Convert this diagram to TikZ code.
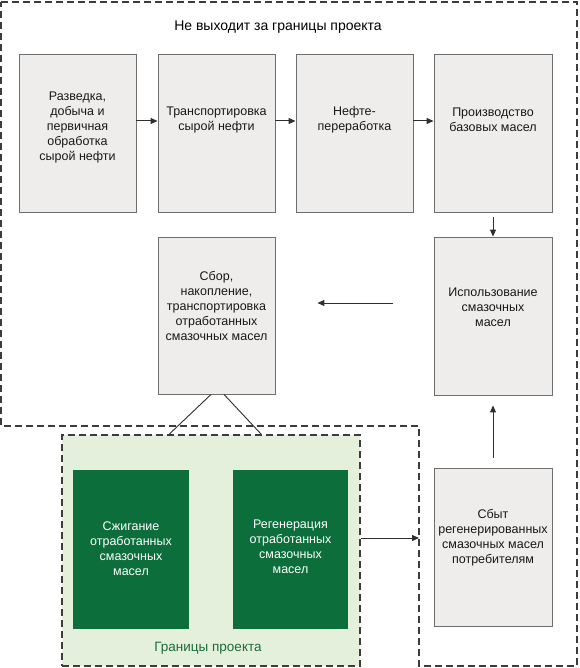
\documentclass[tikz,border=0pt]{standalone}
\usepackage{fontspec}
\setmainfont{Liberation Sans}
\usetikzlibrary{arrows.meta,calc}
\definecolor{boxfill}{HTML}{EFECEC}
\definecolor{boxline}{HTML}{6E6E6E}
\definecolor{dkgreen}{HTML}{0B6E3B}
\definecolor{ltgreen}{HTML}{E5F0DC}
\definecolor{dashcol}{HTML}{3C3C3C}
\definecolor{gtext}{HTML}{1A6B3A}
\definecolor{arrcol}{HTML}{2E2E2E}
\begin{document}
\begin{tikzpicture}[x=1pt,y=-1pt,
  graybox/.style={draw=boxline,fill=boxfill,line width=0.9pt,inner sep=0pt},
  greenbox/.style={fill=dkgreen,draw=none,inner sep=0pt},
  btext/.style={align=center,font=\fontsize{12.5}{15}\selectfont,text=black!90,inner sep=0pt},
  wtext/.style={align=center,font=\fontsize{12.5}{15}\selectfont,text=white,inner sep=0pt},
  bounddash/.style={draw=dashcol,line width=1.6pt,dash pattern=on 7pt off 4pt},
  arr/.style={draw=arrcol,line width=1pt,-{Triangle[length=7pt,width=6pt]}},
  plain/.style={draw=arrcol,line width=0.9pt}
]
\useasboundingbox (0,0) rectangle (579,668);
\fill[white] (0,0) rectangle (579,668);

% project boundary (green region)
\node[fill=ltgreen,bounddash,minimum width=298pt,minimum height=231pt,inner sep=0pt] (G) at (211,550.5) {};

% outer boundary
\draw[bounddash] (1,2) -- (577,2) -- (577,666) -- (419,666) -- (419,426) -- (1,426) -- cycle;
\coordinate (oc) at (419,538);

\node[font=\fontsize{14}{16}\selectfont,inner sep=0pt] (title) at (278,27) {Не выходит за границы проекта};

% top row
\node[graybox,minimum width=117pt,minimum height=158pt] (b1) at (77.5,133) {};
\node[graybox,minimum width=117pt,minimum height=158pt] (b2) at (216.5,133) {};
\node[graybox,minimum width=117pt,minimum height=158pt] (b3) at (354.5,133) {};
\node[graybox,minimum width=118pt,minimum height=158pt] (b4) at (493,133) {};
\node[btext] (t1) at (77.5,127) {Разведка,\\добыча и\\первичная\\обработка\\сырой нефти};
\node[btext] (t2) at (216.5,120) {Транспортировка\\сырой нефти};
\node[btext] (t3) at (354.5,120) {Нефте-\\переработка};
\node[btext] (t4) at (493,120) {Производство\\базовых масел};

% middle row
\node[graybox,minimum width=117pt,minimum height=157pt] (b5) at (216.5,315.5) {};
\node[graybox,minimum width=118pt,minimum height=158pt] (b6) at (493,316) {};
\node[btext] (t5) at (216.5,306) {Сбор,\\накопление,\\транспортировка\\отработанных\\смазочных масел};
\node[btext] (t6) at (493,307) {Использование\\смазочных\\масел};

% bottom right
\node[graybox,minimum width=118pt,minimum height=158pt] (b7) at (493,547) {};
\node[btext] (t7) at (493,538) {Сбыт\\регенерированных\\смазочных масел\\потребителям};

% green boxes
\node[greenbox,minimum width=116pt,minimum height=159pt] (g1) at (131,549.5) {};
\node[greenbox,minimum width=115pt,minimum height=159pt] (g2) at (290.5,549.5) {};
\node[wtext] (tg1) at (131,549) {Сжигание\\отработанных\\смазочных\\масел};
\node[wtext] (tg2) at (290.5,547) {Регенерация\\отработанных\\смазочных\\масел};
\node[font=\fontsize{13.5}{16}\selectfont,text=gtext,inner sep=0pt] (gt) at (208,648) {Границы проекта};

% connectors
\draw[arr] ([yshift=12pt]b1.east) -- ([yshift=12pt]b2.west);
\draw[arr] ([yshift=12pt]b2.east) -- ([yshift=12pt]b3.west);
\draw[arr] ([yshift=12pt]b3.east) -- ([yshift=12pt]b4.west);
\draw[arr] ([yshift=-5pt]b4.south) -- (b6.north);
\draw[arr] ([xshift=-41pt,yshift=13pt]b6.west) -- ([xshift=42pt,yshift=12.5pt]b5.east);
\draw[arr] ([yshift=10pt]b7.north) -- ([yshift=-10pt]b6.south);
\draw[plain] ([xshift=-5.5pt]b5.south) -- ([xshift=108pt]G.north west);
\draw[plain] ([xshift=7.5pt]b5.south) -- ([xshift=200pt]G.north west);
\draw[arr] ([yshift=12.5pt]G.east) -- (oc);
\end{tikzpicture}
\end{document}
